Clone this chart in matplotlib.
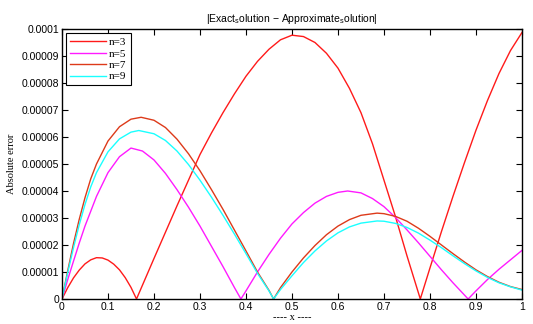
import matplotlib
matplotlib.use('Agg')
import matplotlib.pyplot as plt

# values, in units of 1e-5
x3 = [0, 0.0125, 0.025, 0.0375, 0.05, 0.0625, 0.075, 0.0875, 0.1, 0.1125,
      0.125, 0.1375, 0.15, 0.162, 0.2, 0.25, 0.3, 0.325, 0.35, 0.375, 0.4,
      0.425, 0.45, 0.475, 0.5, 0.525, 0.55, 0.575, 0.6, 0.625, 0.65, 0.675,
      0.7, 0.725, 0.75, 0.779, 0.8, 0.825, 0.85, 0.875, 0.9, 0.925, 0.95,
      0.975, 1.0]
err3 = [0, 0.42, 0.78, 1.07, 1.30, 1.45, 1.53, 1.52, 1.44, 1.29,
        1.08, 0.79, 0.43, 0, 1.5, 3.45, 5.35, 6.15, 6.9, 7.6, 8.25,
        8.8, 9.25, 9.6, 9.77, 9.72, 9.5, 9.1, 8.55, 7.8, 6.9, 5.75,
        4.4, 3.05, 1.6, 0, 1.15, 2.5, 3.8, 5.05, 6.25, 7.35, 8.35,
        9.2, 9.87]

x5 = [0, 0.0125, 0.025, 0.0375, 0.05, 0.075, 0.1, 0.125, 0.15, 0.175, 0.2,
      0.225, 0.25, 0.275, 0.3, 0.325, 0.35, 0.375, 0.389, 0.4, 0.425, 0.45,
      0.475, 0.5, 0.525, 0.55, 0.575, 0.6, 0.621, 0.65, 0.675, 0.7, 0.725,
      0.75, 0.775, 0.8, 0.825, 0.85, 0.883, 0.9, 0.925, 0.95, 0.975, 1.0]
err5 = [0, 0.72, 1.4, 2.07, 2.7, 3.8, 4.68, 5.27, 5.59, 5.48, 5.15,
        4.65, 4.05, 3.4, 2.7, 1.95, 1.2, 0.42, 0, 0.3, 1.0, 1.65,
        2.25, 2.78, 3.2, 3.55, 3.8, 3.95, 4.0, 3.93, 3.72, 3.42, 3.02,
        2.56, 2.08, 1.58, 1.08, 0.6, 0, 0.3, 0.72, 1.1, 1.45, 1.8]

x7 = [0, 0.0125, 0.025, 0.0375, 0.05, 0.0625, 0.075, 0.1, 0.125, 0.15, 0.172,
      0.2, 0.225, 0.25, 0.275, 0.3, 0.325, 0.35, 0.375, 0.4, 0.425, 0.45,
      0.46, 0.475, 0.5, 0.525, 0.55, 0.575, 0.6, 0.625, 0.65, 0.685, 0.7,
      0.725, 0.75, 0.775, 0.8, 0.825, 0.85, 0.875, 0.9, 0.925, 0.95, 0.975,
      1.0]
err7 = [0, 1.05, 2.05, 2.95, 3.75, 4.45, 5.0, 5.85, 6.38, 6.66, 6.73,
        6.62, 6.35, 5.92, 5.38, 4.75, 4.05, 3.32, 2.55, 1.78, 1.0, 0.32,
        0, 0.42, 1.0, 1.52, 1.98, 2.38, 2.7, 2.94, 3.1, 3.18, 3.16,
        3.06, 2.88, 2.62, 2.32, 2.0, 1.68, 1.37, 1.08, 0.83, 0.62, 0.46,
        0.35]

x9 = [0, 0.0125, 0.025, 0.0375, 0.05, 0.0625, 0.075, 0.1, 0.125, 0.15, 0.167,
      0.2, 0.225, 0.25, 0.275, 0.3, 0.325, 0.35, 0.375, 0.4, 0.425, 0.45,
      0.46, 0.475, 0.5, 0.525, 0.55, 0.575, 0.6, 0.625, 0.65, 0.685, 0.7,
      0.725, 0.75, 0.775, 0.8, 0.825, 0.85, 0.875, 0.9, 0.925, 0.95, 0.975,
      1.0]
err9 = [0, 0.98, 1.9, 2.75, 3.5, 4.15, 4.68, 5.45, 5.93, 6.18, 6.24,
        6.12, 5.87, 5.48, 4.98, 4.4, 3.77, 3.1, 2.4, 1.68, 0.95, 0.3,
        0, 0.35, 0.86, 1.35, 1.78, 2.15, 2.45, 2.67, 2.81, 2.89, 2.88,
        2.8, 2.65, 2.44, 2.18, 1.9, 1.6, 1.31, 1.04, 0.8, 0.6, 0.45,
        0.33]

series = [('n=3', x3, err3, '#ff1a1a'),
          ('n=5', x5, err5, '#ff1aff'),
          ('n=7', x7, err7, '#dd3a1a'),
          ('n=9', x9, err9, '#1affff')]

xticks = [0, 0.1, 0.2, 0.3, 0.4, 0.5, 0.6, 0.7, 0.8, 0.9, 1]
xtick_labels = ['0', '0.1', '0.2', '0.3', '0.4', '0.5', '0.6', '0.7', '0.8', '0.9', '1']
yticks = [0, 1e-5, 2e-5, 3e-5, 4e-5, 5e-5, 6e-5, 7e-5, 8e-5, 9e-5, 1e-4]
ytick_labels = ['0', '0.00001', '0.00002', '0.00003', '0.00004', '0.00005',
                '0.00006', '0.00007', '0.00008', '0.00009', '0.0001']

plt.rcParams['font.family'] = ['Liberation Sans', 'DejaVu Sans']
plt.rcParams['mathtext.fontset'] = 'custom'
plt.rcParams['mathtext.rm'] = 'Liberation Sans'
plt.rcParams['mathtext.it'] = 'Liberation Sans'

fig = plt.figure(figsize=(5.33, 3.24), dpi=100)
ax = fig.add_axes([0.1163, 0.0772, 0.8630, 0.8333])

for name, xs, ys, col in series:
    ax.plot(xs, [v * 1e-5 for v in ys], '-', color=col, lw=1.0, label=name)

ax.set_xlim(0, 1)
ax.set_ylim(0, 1e-4)
ax.set_xticks(xticks)
ax.set_xticklabels(xtick_labels)
ax.set_yticks(yticks)
ax.set_yticklabels(ytick_labels)
ax.tick_params(direction='in', length=4, width=0.8, top=True, right=True,
               labelsize=7.5, pad=2)
for sp in ax.spines.values():
    sp.set_linewidth(1.0)

ax.set_title(r'|Exact$_{\rm s}$olution $-$ Approximate$_{\rm s}$olution|',
             fontsize=7.5, pad=5)
ax.set_xlabel('---- x ----', family='Liberation Serif', fontsize=7.5, labelpad=1)
ax.set_ylabel('Absolute error', family='Liberation Serif', fontsize=7.5, labelpad=4)

leg = ax.legend(loc='upper left', prop={'family': 'Liberation Serif', 'size': 8},
                handlelength=3.2, handletextpad=0.3, labelspacing=0.15,
                borderpad=0.35, fancybox=False, framealpha=1,
                borderaxespad=0.4)
leg.get_frame().set_edgecolor('black')
leg.get_frame().set_linewidth(0.8)

fig.savefig('out.png', dpi=100)
